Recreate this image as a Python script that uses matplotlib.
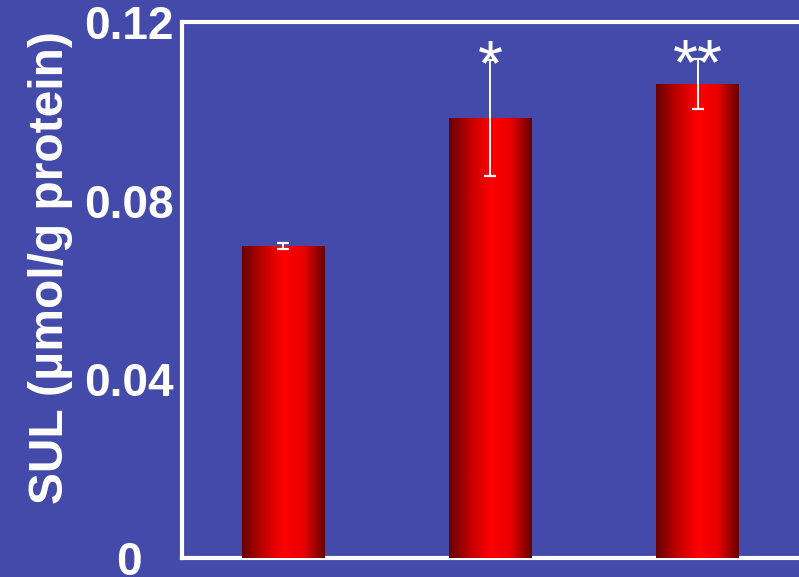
import numpy as np
import matplotlib
matplotlib.use("Agg")
import matplotlib.pyplot as plt
from matplotlib.colors import LinearSegmentedColormap

# Data
groups = ["Control", "Low", "High"]
sul_values = [0.0698, 0.0986, 0.1062]
sul_errors = [0.0007, 0.013, 0.0056]
significance = ["", "*", "**"]
y_ticks = [0, 0.04, 0.08, 0.12]
y_tick_labels = ["0", "0.04", "0.08", "0.12"]

BG = "#434AA9"
plt.rcParams["font.family"] = ["Liberation Sans", "DejaVu Sans"]

fig = plt.figure(figsize=(7.99, 5.77), dpi=100, facecolor=BG)
ax = fig.add_axes([182 / 799, 19 / 577, 1 - 182 / 799, 536 / 577])
ax.set_facecolor(BG)

x = np.arange(len(groups))
bars = ax.bar(x, sul_values, width=0.40, color="#cc0000", zorder=2)

# horizontal cylinder-like shading for each bar
cmap = LinearSegmentedColormap.from_list(
    "redshade", ["#660000", "#c00000", "#ff0000", "#e80000", "#660000"])
grad = np.linspace(0, 1, 256).reshape(1, -1)
for b in bars:
    x0, w, h = b.get_x(), b.get_width(), b.get_height()
    im = ax.imshow(grad, cmap=cmap, extent=[x0, x0 + w, 0, h],
                   aspect="auto", zorder=3, interpolation="bicubic")
    im.set_clip_path(b)

ax.errorbar(x, sul_values, yerr=sul_errors, fmt="none", ecolor="white",
            elinewidth=1.4, capsize=4, capthick=1.6, zorder=4)

for xi, v, e, s in zip(x, sul_values, sul_errors, significance):
    if s:
        ax.annotate(s, (xi, v + e), xytext=(0, -6), textcoords="offset points",
                    ha="center", va="center", color="white",
                    fontsize=46, zorder=5)

ax.set_xlim(-0.49, 2.49)
ax.set_ylim(0, 0.12)
ax.set_xticks([])
ax.set_yticks(y_ticks)
ax.set_yticklabels(y_tick_labels)
ax.tick_params(axis="y", length=0, pad=38.5, labelsize=33, labelcolor="white")
for lab in ax.get_yticklabels():
    lab.set_fontweight("bold")
    lab.set_horizontalalignment("center")

for side in ("left", "bottom", "top"):
    ax.spines[side].set_color("white")
    ax.spines[side].set_linewidth(3)
ax.spines["right"].set_visible(False)

ax.set_ylabel("SUL (μmol/g protein)", fontsize=34.5, fontweight="bold",
              color="white")
ax.yaxis.set_label_coords(73 / 799, 1 - 268 / 577, transform=fig.transFigure)

fig.savefig("out.png", dpi=100, facecolor=BG)
